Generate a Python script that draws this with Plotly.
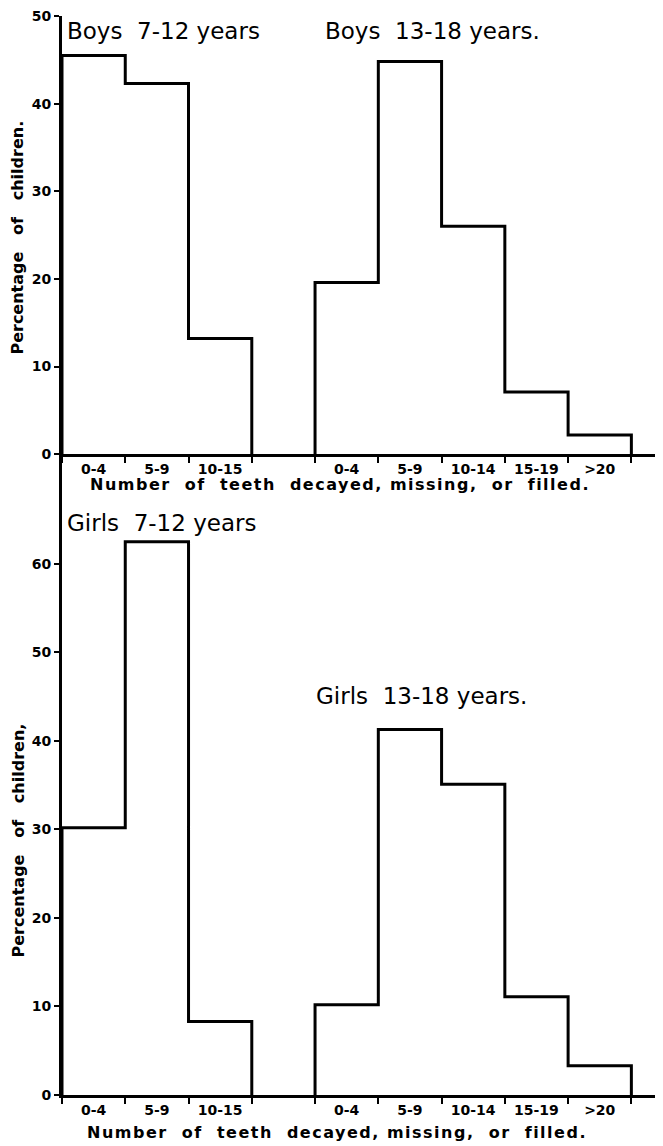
import plotly.graph_objects as go

# ---- data (percent of children per class) ----
young_labels = ["0-4", "5-9", "10-15"]
old_labels = ["0-4", "5-9", "10-14", "15-19", ">20"]
boys_7_12 = [45.5, 42.3, 13.2]
boys_13_18 = [19.6, 44.8, 26.0, 7.1, 2.2]
girls_7_12 = [30.2, 62.5, 8.3]
girls_13_18 = [10.2, 41.3, 35.1, 11.1, 3.3]
boys_yticks = [0, 10, 20, 30, 40, 50]
girls_yticks = [0, 10, 20, 30, 40, 50, 60]

YOUNG_START = 0
OLD_START = len(young_labels) + 1

FONT = "DejaVu Sans"
LW = 3
OFF = 8  # page body margin


def step(start, vals):
    xs, ys = [start], [0]
    for i, v in enumerate(vals):
        xs += [start + i, start + i + 1]
        ys += [v, v]
    xs.append(start + len(vals))
    ys.append(0)
    return xs, ys


fig = go.Figure()

panels = [
    ("x", "y", boys_7_12, boys_13_18),
    ("x2", "y2", girls_7_12, girls_13_18),
]
for xa, ya, yv, ov in panels:
    for start, vals in ((YOUNG_START, yv), (OLD_START, ov)):
        xs, ys = step(start, vals)
        fig.add_trace(go.Scatter(x=xs, y=ys, mode="lines", xaxis=xa, yaxis=ya,
                                 line=dict(color="black", width=LW),
                                 showlegend=False, hoverinfo="skip"))

tick_centers = [YOUNG_START + i + 0.5 for i in range(len(young_labels))] + \
               [OLD_START + i + 0.5 for i in range(len(old_labels))]
tick_text = ["<b>%s</b>" % t for t in young_labels + old_labels]

xcommon = dict(range=[0, 9.5], showgrid=False, zeroline=False, showline=True,
               linecolor="black", linewidth=LW, tickvals=tick_centers, ticktext=tick_text,
               ticks="", tickfont=dict(family=FONT, size=14, color="black"),
               minor=dict(ticks="outside", ticklen=6, tickwidth=2, tickcolor="black",
                          tick0=0, dtick=1, showgrid=False))
ycommon = dict(showgrid=False, zeroline=False, showline=True, linecolor="black",
               linewidth=LW, ticks="outside", ticklen=5, tickwidth=2, tickcolor="black",
               ticklabeloverflow="allow",
               tickfont=dict(family=FONT, size=14, color="black"))

W, H = 663 - OFF, 1146 - OFF
L, T, B = 62 - OFF, 14 - OFF, 51
PH = H - T - B
split = (1095 - OFF - (453 - OFF)) / PH
fig.update_layout(
    width=W, height=H,
    margin=dict(l=L, r=0, t=T, b=B),
    paper_bgcolor="white", plot_bgcolor="white",
    xaxis=dict(**xcommon, domain=[0, 1], anchor="y"),
    yaxis=dict(**ycommon, domain=[split, 1], range=[0, 50], anchor="x",
               tickvals=boys_yticks, ticktext=["<b>%d</b>" % v for v in boys_yticks]),
    xaxis2=dict(**xcommon, domain=[0, 1], anchor="y2"),
    yaxis2=dict(**ycommon, domain=[0, split], range=[0, 72.4], anchor="x2",
                tickvals=girls_yticks, ticktext=["<b>%d</b>" % v for v in girls_yticks]),
)


def px_x(p):
    return (p - 62) / (W - L)


def px_y(p):
    return (1095 - p) / PH


sp = "\u00a0 "
xtitle = ('<span style="letter-spacing:1.5px"><b>Number{0}of{0}teeth{0}decayed,'
          ' missing,{0}or{0}filled.</b></span>').format(sp)
ytitle = "<b>Percentage\u00a0\u00a0 of\u00a0\u00a0 children{0}</b>"
title_font = dict(family=FONT, size=23, color="black")
ann = [
    dict(text="Boys\u00a0 7-12\u00a0years", x=0.05, y=48.3, xref="x", yref="y",
         xanchor="left", yanchor="middle", font=title_font, showarrow=False),
    dict(text="Boys\u00a0 13-18\u00a0years.", x=4.12, y=48.3, xref="x", yref="y",
         xanchor="left", yanchor="middle", font=title_font, showarrow=False),
    dict(text="Girls\u00a0 7-12\u00a0years", x=0.05, y=64.6, xref="x2", yref="y2",
         xanchor="left", yanchor="middle", font=title_font, showarrow=False),
    dict(text="Girls\u00a0 13-18\u00a0years.", x=3.98, y=45.1, xref="x2", yref="y2",
         xanchor="left", yanchor="middle", font=title_font, showarrow=False),
    dict(text=ytitle.format("."), x=px_x(18), y=px_y(236),
         xref="paper", yref="paper", textangle=-90, xanchor="center", yanchor="middle",
         font=dict(family=FONT, size=16, color="black"), showarrow=False),
    dict(text=ytitle.format(","), x=px_x(18), y=px_y(840),
         xref="paper", yref="paper", textangle=-90, xanchor="center", yanchor="middle",
         font=dict(family=FONT, size=16, color="black"), showarrow=False),
    dict(text=xtitle, x=px_x(340), y=px_y(483),
         xref="paper", yref="paper", xanchor="center", yanchor="middle",
         font=dict(family=FONT, size=16, color="black"), showarrow=False),
    dict(text=xtitle, x=px_x(337), y=px_y(1133),
         xref="paper", yref="paper", xanchor="center", yanchor="middle",
         font=dict(family=FONT, size=16, color="black"), showarrow=False),
]
fig.update_layout(annotations=ann)

fig.write_html("out.html")
